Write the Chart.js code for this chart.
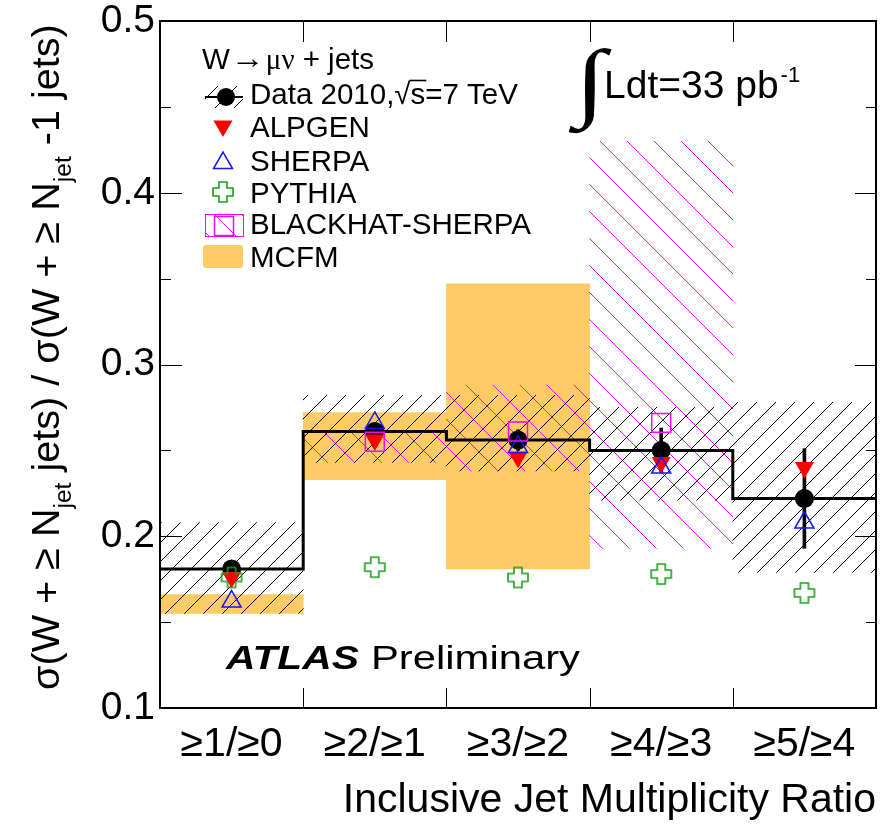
<!DOCTYPE html>
<html>
<head>
<meta charset="utf-8">
<script src="https://cdn.jsdelivr.net/npm/chart.js@4.4.1/dist/chart.umd.min.js"></script>
<style>
  html, body { margin: 0; padding: 0; background: #fff; }
  canvas { display: block; }
</style>
</head>
<body>
<canvas id="c" width="896" height="830" style="width:896px;height:830px"></canvas>
<script>
// Jet multiplicity ratio bins
const binLabels = ['≥1/≥0', '≥2/≥1', '≥3/≥2', '≥4/≥3', '≥5/≥4'];

// Measured ratio with statistical error and total systematic band
const dataRatio    = [0.181, 0.261, 0.256, 0.250, 0.222];
const dataStatErr  = [0.003, 0.004, 0.006, 0.013, 0.029];
const dataSystLow  = [0.155, 0.243, 0.238, 0.221, 0.179];
const dataSystHigh = [0.208, 0.282, 0.282, 0.275, 0.278];

// Generator predictions
const alpgen = [0.176, 0.256, 0.246, 0.243, 0.240];
const sherpa = [0.162, 0.266, 0.252, 0.240, 0.208];
const pythia = [0.176, 0.182, 0.176, 0.178, 0.167];

// NLO predictions (null = not available for that ratio)
const blackhat     = [null, 0.255, 0.261, 0.266, null];
const blackhatLow  = [null, 0.243, 0.238, 0.193, null];
const blackhatHigh = [null, 0.260, 0.288, 0.430, null];
const mcfmLow  = [0.155, 0.233, 0.181, null, null];
const mcfmHigh = [0.166, 0.272, 0.347, null, null];

// Axis range and tick step
const yRange = [0.1, 0.5];
const yStep = 0.1;

const SANS = '"Liberation Sans", Arial, Helvetica, sans-serif';
const SERIF = '"Liberation Serif", "DejaVu Serif", serif';
const ORANGE = 'rgb(254,203,102)';
const MAGENTA = '#ff00ff';
const GREEN = '#1f9f1f';
const BLUE = '#1414ff';
const RED = '#ff0000';

Chart.defaults.font.family = SANS;
Chart.defaults.color = '#000';

const canvas = document.getElementById('c');
const ctx0 = canvas.getContext('2d');

function hatch(spacing, color, rising) {
  const t = document.createElement('canvas');
  t.width = t.height = spacing;
  const g = t.getContext('2d');
  g.strokeStyle = color;
  g.lineWidth = 1;
  g.beginPath();
  for (let k = -1; k <= 1; k++) {
    if (rising) { g.moveTo(k * spacing, spacing); g.lineTo(k * spacing + spacing, 0); }
    else { g.moveTo(k * spacing, 0); g.lineTo(k * spacing + spacing, spacing); }
  }
  g.stroke();
  return ctx0.createPattern(t, 'repeat');
}
const blackHatch = hatch(19, '#000', true);
const pinkHatch = hatch(27, MAGENTA, false);

function openCross(size, color) {
  const pad = 2;
  const c = document.createElement('canvas');
  c.width = c.height = size + 2 * pad;
  const g = c.getContext('2d');
  const o = pad, s = size, a = s * 0.3, b = s * 0.7;
  g.beginPath();
  g.moveTo(o + a, o); g.lineTo(o + b, o); g.lineTo(o + b, o + a); g.lineTo(o + s, o + a);
  g.lineTo(o + s, o + b); g.lineTo(o + b, o + b); g.lineTo(o + b, o + s); g.lineTo(o + a, o + s);
  g.lineTo(o + a, o + b); g.lineTo(o, o + b); g.lineTo(o, o + a); g.lineTo(o + a, o + a);
  g.closePath();
  g.strokeStyle = color;
  g.lineWidth = 1.6;
  g.stroke();
  return c;
}
const crossImg = openCross(20, GREEN);

const centers = binLabels.map((_, i) => i + 0.5);
const band = (lo, hi) => lo.map((v, i) => v == null ? null : { x: centers[i], y: [v, hi[i]] }).filter(Boolean);
const pts = arr => arr.map((v, i) => v == null ? null : { x: centers[i], y: v }).filter(Boolean);
const stepPts = dataRatio.map((v, i) => ({ x: i, y: v }))
  .concat([{ x: dataRatio.length, y: dataRatio[dataRatio.length - 1] }]);

const barCommon = { type: 'bar', grouped: false, barPercentage: 1, categoryPercentage: 1, borderWidth: 0 };
const markerCommon = { type: 'line', showLine: false };

// Frame with inward ticks on all four sides
const framePlugin = {
  id: 'frame',
  afterDatasetsDraw(chart) {
    const { ctx, chartArea: a, scales: { x, y } } = chart;
    ctx.save();
    ctx.strokeStyle = '#000';
    ctx.lineWidth = 1;
    ctx.beginPath();
    const major = y.ticks.map(t => t.value);
    const minor = major.slice(1).map((v, i) => (v + major[i]) / 2);
    for (const v of major) {
      const p = Math.round(y.getPixelForValue(v)) + 0.5;
      ctx.moveTo(a.left, p); ctx.lineTo(a.left + 22, p);
      ctx.moveTo(a.right, p); ctx.lineTo(a.right - 21, p);
    }
    for (const v of minor) {
      const p = Math.round(y.getPixelForValue(v)) + 0.5;
      ctx.moveTo(a.left, p); ctx.lineTo(a.left + 11, p);
      ctx.moveTo(a.right, p); ctx.lineTo(a.right - 10, p);
    }
    for (let b = 1; b < binLabels.length; b++) {
      const p = Math.round(x.getPixelForValue(b)) + 0.5;
      ctx.moveTo(p, a.bottom); ctx.lineTo(p, a.bottom - 20);
      ctx.moveTo(p, a.top); ctx.lineTo(p, a.top + 21);
    }
    ctx.stroke();
    ctx.lineWidth = 2;
    ctx.strokeRect(a.left, a.top, a.right - a.left, a.bottom - a.top);
    ctx.restore();
  }
};

function tri(ctx, x, y, r, down, fill, stroke) {
  ctx.beginPath();
  for (let k = 0; k < 3; k++) {
    const ang = (down ? Math.PI : 0) + k * 2 * Math.PI / 3;
    const px = x + Math.sin(ang) * r, py = y - Math.cos(ang) * r;
    if (k === 0) ctx.moveTo(px, py); else ctx.lineTo(px, py);
  }
  ctx.closePath();
  if (fill) { ctx.fillStyle = fill; ctx.fill(); }
  if (stroke) { ctx.strokeStyle = stroke; ctx.lineWidth = 1.5; ctx.stroke(); }
}

function drawPieces(ctx, x, y, pieces) {
  for (const p of pieces) {
    ctx.font = p.font;
    ctx.fillText(p.t, x, y + (p.dy || 0));
    x += ctx.measureText(p.t).width;
  }
  return x;
}

// text drawn stretched horizontally to a given width
function fitText(ctx, t, font, x, y, width) {
  ctx.font = font;
  const w = ctx.measureText(t).width;
  ctx.save();
  ctx.translate(x, y);
  ctx.scale(width / w, 1);
  ctx.fillText(t, 0, 0);
  ctx.restore();
  return x + width;
}

// Legend, axis title with subscripts and the text labels inside the frame
const textPlugin = {
  id: 'texts',
  afterDraw(chart) {
    const ctx = chart.ctx;
    ctx.save();
    ctx.fillStyle = '#000';
    ctx.textBaseline = 'alphabetic';
    ctx.textAlign = 'left';

    // ---- y axis title (rotated, with subscripts)
    const pieces = [
      { t: 'σ(W + ≥ N', main: true },
      { t: 'jet', main: false },
      { t: ' jets) / σ(W + ≥ N', main: true },
      { t: 'jet', main: false },
      { t: ' -1 jets)', main: true }
    ];
    const base = 38, subR = 0.62;
    let natural = 0;
    for (const p of pieces) {
      ctx.font = `${p.main ? base : base * subR}px ${SANS}`;
      natural += ctx.measureText(p.t).width;
    }
    const fs = base * 666 / natural;
    ctx.save();
    ctx.translate(59, 690);
    ctx.rotate(-Math.PI / 2);
    drawPieces(ctx, 0, 0, pieces.map(p => ({
      t: p.t,
      font: `${p.main ? fs : fs * subR}px ${SANS}`,
      dy: p.main ? 0 : fs * 0.3
    })));
    ctx.restore();

    // ---- legend
    const LF = `29.5px ${SANS}`;
    const GF = `29px ${SERIF}`;
    ctx.fillStyle = '#000';
    let tx = drawPieces(ctx, 202, 69, [{ t: 'W', font: LF }]);
    tx = fitText(ctx, '→', `30px ${SANS}`, tx + 1, 68, 34) + 1;
    tx = drawPieces(ctx, tx, 69, [{ t: 'μν', font: GF }, { t: ' + jets', font: LF }]);

    // data entry: hatched box, line, marker
    ctx.fillStyle = blackHatch;
    ctx.fillRect(205, 86, 38, 22);
    ctx.strokeStyle = '#000';
    ctx.lineWidth = 2;
    ctx.beginPath(); ctx.moveTo(205, 97); ctx.lineTo(243, 97); ctx.stroke();
    ctx.fillStyle = '#000';
    ctx.beginPath(); ctx.arc(226, 97, 9, 0, Math.PI * 2); ctx.fill();

    ctx.font = LF;
    let xx = 250;
    ctx.fillText('Data 2010,', xx, 104); xx += ctx.measureText('Data 2010,').width;
    ctx.fillText('√', xx, 104); xx += ctx.measureText('√').width;
    const sw = ctx.measureText('s').width;
    ctx.fillText('s', xx, 104);
    ctx.lineWidth = 1.6;
    ctx.beginPath(); ctx.moveTo(xx - 1, 80.5); ctx.lineTo(xx + sw + 1, 80.5); ctx.stroke();
    xx += sw;
    ctx.fillText('=7 TeV', xx, 104);

    tri(ctx, 223, 126, 11, true, RED, null);
    ctx.fillStyle = '#000'; ctx.fillText('ALPGEN', 250, 137);
    tri(ctx, 223, 163, 11, false, null, BLUE);
    ctx.fillStyle = '#000'; ctx.fillText('SHERPA', 250, 171);
    ctx.drawImage(crossImg, 223 - crossImg.width / 2, 192 - crossImg.height / 2);
    ctx.fillText('PYTHIA', 250, 203);

    ctx.fillStyle = pinkHatch;
    ctx.fillRect(205, 214, 38, 22);
    ctx.strokeStyle = MAGENTA; ctx.lineWidth = 1;
    ctx.strokeRect(205.5, 214.5, 38, 22);
    ctx.lineWidth = 1.5;
    ctx.strokeRect(214.5, 216.5, 19, 19);
    ctx.fillStyle = '#000'; ctx.fillText('BLACKHAT-SHERPA', 250, 234);

    ctx.fillStyle = ORANGE;
    ctx.beginPath();
    if (ctx.roundRect) ctx.roundRect(203, 245, 40, 23, 3); else ctx.rect(203, 245, 40, 23);
    ctx.fill();
    ctx.fillStyle = '#000'; ctx.fillText('MCFM', 250, 267);

    // ---- luminosity label
    ctx.font = `bold 100px ${SERIF}`;
    const m = ctx.measureText('∫');
    const gw = m.actualBoundingBoxLeft + m.actualBoundingBoxRight;
    const gh = m.actualBoundingBoxAscent + m.actualBoundingBoxDescent;
    ctx.save();
    ctx.translate(568, 47);
    ctx.scale(44 / gw, 86 / gh);
    ctx.fillText('∫', m.actualBoundingBoxLeft, m.actualBoundingBoxAscent);
    ctx.restore();
    ctx.font = `39px ${SANS}`;
    ctx.fillText('Ldt=33 pb', 604, 98);
    const lw = ctx.measureText('Ldt=33 pb').width;
    ctx.font = `22px ${SANS}`;
    ctx.fillText('-1', 604 + lw + 2, 82);

    // ---- experiment label
    fitText(ctx, 'ATLAS', `italic bold 34px ${SANS}`, 226, 669, 133);
    fitText(ctx, 'Preliminary', `34px ${SANS}`, 371, 669, 209);

    ctx.restore();
  }
};

new Chart(canvas, {
  type: 'bar',
  data: {
    datasets: [
      { ...markerCommon, label: 'BLACKHAT-SHERPA', data: pts(blackhat), order: 1,
        pointStyle: 'rect', pointRadius: 13.4, pointBorderWidth: 1.5,
        pointBorderColor: MAGENTA, pointBackgroundColor: 'rgba(0,0,0,0)' },
      { ...markerCommon, label: 'SHERPA', data: pts(sherpa), order: 2,
        pointStyle: 'triangle', pointRadius: 11, pointBorderWidth: 1.5,
        pointBorderColor: BLUE, pointBackgroundColor: 'rgba(0,0,0,0)' },
      { ...markerCommon, label: 'PYTHIA', data: pts(pythia), order: 3,
        pointStyle: crossImg, pointRadius: 10 },
      { ...markerCommon, label: 'ALPGEN', data: pts(alpgen), order: 4,
        pointStyle: 'triangle', pointRotation: 180, pointRadius: 11, pointBorderWidth: 0,
        pointBackgroundColor: RED, pointBorderColor: RED },
      { ...markerCommon, label: 'Data 2010', data: pts(dataRatio), order: 5,
        pointStyle: 'circle', pointRadius: 9.5, pointBorderWidth: 0,
        pointBackgroundColor: '#000', pointBorderColor: '#000' },
      { ...barCommon, label: 'stat', order: 6, barThickness: 3, backgroundColor: '#000',
        data: band(dataRatio.map((v, i) => v - dataStatErr[i]), dataRatio.map((v, i) => v + dataStatErr[i])) },
      { type: 'line', label: 'Data histogram', data: stepPts, order: 7, stepped: 'before',
        borderColor: '#000', borderWidth: 3, pointRadius: 0, fill: false },
      { ...barCommon, label: 'syst', order: 8, backgroundColor: blackHatch,
        data: band(dataSystLow, dataSystHigh) },
      { ...barCommon, label: 'BLACKHAT band', order: 9, backgroundColor: pinkHatch,
        data: band(blackhatLow, blackhatHigh) },
      { ...barCommon, label: 'MCFM', order: 10, backgroundColor: ORANGE,
        data: band(mcfmLow, mcfmHigh) }
    ]
  },
  options: {
    responsive: false,
    animation: false,
    devicePixelRatio: 1,
    events: [],
    layout: { padding: { top: 21, right: 20, left: 0, bottom: 0 } },
    plugins: { legend: { display: false }, tooltip: { enabled: false } },
    scales: {
      x: {
        type: 'linear', min: 0, max: binLabels.length, offset: false,
        grid: { display: false, drawTicks: false }, border: { display: false },
        afterBuildTicks: s => { s.ticks = centers.map(v => ({ value: v })); },
        afterFit: s => { s.height = 122; s.paddingLeft = 0; s.paddingRight = 0; },
        ticks: {
          autoSkip: false, maxRotation: 0, padding: 12,
          font: { size: 41, lineHeight: 1.2 },
          callback: v => binLabels[Math.round(v - 0.5)]
        },
        title: {
          display: true, text: 'Inclusive Jet Multiplicity Ratio', align: 'end',
          font: { size: 41 }, padding: { top: 0, bottom: 5 }
        }
      },
      y: {
        type: 'linear', min: yRange[0], max: yRange[1],
        grid: { display: false, drawTicks: false }, border: { display: false },
        afterFit: s => { s.width = 160; s.paddingTop = 0; s.paddingBottom = 0; },
        ticks: {
          stepSize: yStep, padding: 5,
          font: { size: 39, lineHeight: 1 },
          callback: v => v.toFixed(1)
        }
      }
    }
  },
  plugins: [framePlugin, textPlugin]
});
</script>
</body>
</html>
